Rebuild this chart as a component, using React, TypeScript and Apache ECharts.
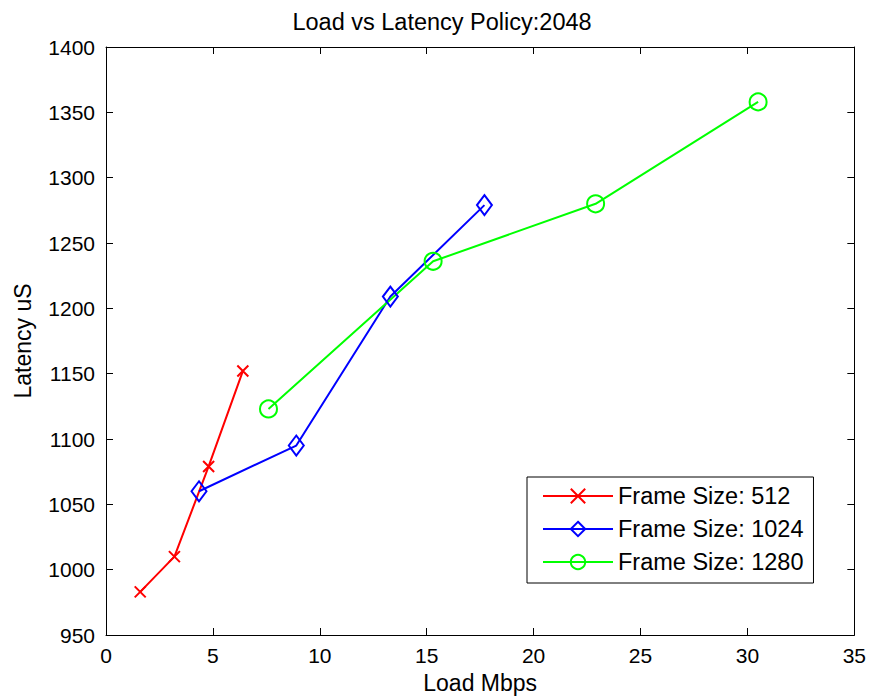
import React, { useEffect, useRef } from "react";
import * as echarts from "echarts";

const seriesNames = ["Frame Size: 512", "Frame Size: 1024", "Frame Size: 1280"];
const load512 = [1.6, 3.2, 4.8, 6.4];
const lat512 = [983, 1010, 1079, 1152];
const load1024 = [4.35, 8.9, 13.3, 17.7];
const lat1024 = [1060, 1095, 1209, 1279];
const load1280 = [7.6, 15.3, 22.9, 30.5];
const lat1280 = [1123, 1236, 1280, 1358];
const colors = ["#ff0000", "#0000ff", "#00ff00"];

const FONT = "Liberation Sans";
const crossPath = "path://M0,0L10,10M10,0L0,10";

export default function App() {
  const ref = useRef<HTMLDivElement>(null);
  useEffect(() => {
    const chart = echarts.init(ref.current!, null, { renderer: "svg" });
    const pair = (xs: number[], ys: number[]) => xs.map((x, i) => [x, ys[i]]);
    const axisCommon = {
      axisLine: { show: true, onZero: false, lineStyle: { color: "#000", width: 1 } },
      axisTick: { show: true, inside: true, length: 7, lineStyle: { color: "#000" } },
      splitLine: { show: false },
    };
    const tick = { fontFamily: FONT, fontSize: 21, color: "#000" };
    const label = { fontFamily: FONT, fontSize: 23, color: "#000" };
    chart.setOption({
      animation: false,
      backgroundColor: "#fff",
      title: {
        text: "Load vs Latency Policy:2048",
        left: 437,
        textAlign: "center",
        top: 5,
        textStyle: { fontFamily: FONT, fontSize: 23.5, fontWeight: "normal", color: "#000" },
      },
      grid: { left: 106, top: 47, right: 14, bottom: 61, containLabel: false },
      legend: {
        orient: "vertical",
        left: 527,
        top: 477,
        padding: [7, 10, 9, 15],
        itemGap: 9,
        itemWidth: 70,
        itemHeight: 18,
        borderColor: "#000",
        borderWidth: 1,
        backgroundColor: "#fff",
        textStyle: { fontFamily: FONT, fontSize: 23.5, color: "#000" },
        data: seriesNames,
      },
      xAxis: [
        {
          type: "value",
          min: 0,
          max: 35,
          interval: 5,
          position: "bottom",
          name: "Load Mbps",
          nameLocation: "middle",
          nameGap: 36,
          nameTextStyle: label,
          axisLabel: { ...tick, margin: 10 },
          ...axisCommon,
        },
        {
          type: "value",
          min: 0,
          max: 35,
          interval: 5,
          position: "top",
          axisLabel: { show: false },
          ...axisCommon,
        },
      ],
      yAxis: [
        {
          type: "value",
          min: 950,
          max: 1400,
          interval: 50,
          position: "left",
          name: "Latency uS",
          nameLocation: "middle",
          nameGap: 72,
          nameTextStyle: label,
          axisLabel: { ...tick, margin: 11, formatter: (v: number) => String(v) },
          ...axisCommon,
        },
        {
          type: "value",
          min: 950,
          max: 1400,
          interval: 50,
          position: "right",
          axisLabel: { show: false },
          ...axisCommon,
        },
      ],
      series: [
        {
          name: seriesNames[0],
          type: "line",
          data: pair(load512, lat512),
          symbol: crossPath,
          symbolSize: 11,
          lineStyle: { color: colors[0], width: 2 },
          itemStyle: { color: "transparent", borderColor: colors[0], borderWidth: 2 },
        },
        {
          name: seriesNames[1],
          type: "line",
          data: pair(load1024, lat1024),
          symbol: "diamond",
          symbolSize: [15, 20],
          lineStyle: { color: colors[1], width: 2 },
          itemStyle: { color: "transparent", borderColor: colors[1], borderWidth: 2 },
        },
        {
          name: seriesNames[2],
          type: "line",
          data: pair(load1280, lat1280),
          symbol: "circle",
          symbolSize: 17,
          lineStyle: { color: colors[2], width: 2 },
          itemStyle: { color: "transparent", borderColor: colors[2], borderWidth: 2 },
        },
      ],
    });
    return () => chart.dispose();
  }, []);
  return <div ref={ref} style={{ width: 869, height: 699, position: "absolute", left: 0, top: 0 }} />;
}
